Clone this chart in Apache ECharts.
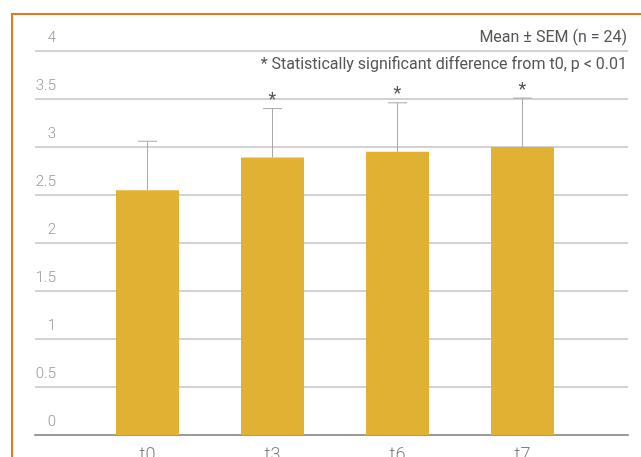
<!DOCTYPE html>
<html>
<head>
<meta charset="utf-8">
<script src="https://cdn.jsdelivr.net/npm/echarts@6/dist/echarts.min.js"></script>
<style>
  html, body { margin: 0; padding: 0; background: #fff; }
  #chart { width: 641px; height: 457px; }
</style>
</head>
<body>
<div id="chart"></div>
<script>
// Time points and their mean scores with standard errors
const categories = ['t0', 't3', 't6', 't7'];
const means = [2.55, 2.89, 2.95, 3.0];
const sem = [0.51, 0.51, 0.51, 0.51];
const significant = [false, true, true, true];
const yTicks = { min: 0, max: 4, interval: 0.5 };

const noteTop = 'Mean \u00b1 SEM (n = 24)';
const noteSig = '* Statistically significant difference from t0, p < 0.01';

const FONT = 'Roboto, "Noto Sans", sans-serif';
const BAR = '#E0B132';
const WHISKER = '#A9A9A9';

const errData = categories.map((c, i) => [i, means[i], means[i] + sem[i], significant[i] ? 1 : 0]);

const chart = echarts.init(document.getElementById('chart'), null, { renderer: 'canvas' });

chart.setOption({
  animation: false,
  backgroundColor: '#fff',
  grid: [
    { left: 35, right: 13, top: 51, bottom: 22, outerBoundsMode: 'none', containLabel: false },
    { left: 85, right: 56, top: 51, bottom: 22, outerBoundsMode: 'none', containLabel: false }
  ],
  xAxis: [
    {
      gridIndex: 0, type: 'value', min: 0, max: 1,
      axisLine: { show: true, lineStyle: { color: '#9a9a9a', width: 2 } },
      axisTick: { show: false }, axisLabel: { show: false }, splitLine: { show: false }
    },
    {
      gridIndex: 1, type: 'category', data: categories,
      axisLine: { show: false }, axisTick: { show: false },
      axisLabel: { color: '#808080', fontSize: 18, fontFamily: FONT, fontWeight: 300, margin: 11 }
    }
  ],
  yAxis: [
    {
      gridIndex: 0, type: 'value', min: yTicks.min, max: yTicks.max, interval: yTicks.interval,
      axisLine: { show: false }, axisTick: { show: false },
      splitLine: { show: true, lineStyle: { color: '#d2d2d2', width: 2 } },
      axisLabel: {
        inside: true, margin: 21, align: 'right', verticalAlign: 'bottom',
        padding: [0, 0, 5, 0],
        color: '#999', fontSize: 15, fontFamily: FONT, fontWeight: 300
      }
    },
    {
      gridIndex: 1, type: 'value', min: yTicks.min, max: yTicks.max, interval: yTicks.interval,
      show: false, splitLine: { show: false }
    }
  ],
  series: [
    {
      type: 'bar', xAxisIndex: 1, yAxisIndex: 1,
      data: means, barWidth: 63,
      itemStyle: { color: BAR }
    },
    {
      type: 'custom', xAxisIndex: 1, yAxisIndex: 1,
      data: errData, z: 5,
      renderItem: function (params, api) {
        const x = api.coord([api.value(0), api.value(1)])[0];
        const yLow = api.coord([api.value(0), api.value(1)])[1];
        const yHigh = api.coord([api.value(0), api.value(2)])[1];
        const half = 9.5;
        const children = [
          { type: 'line', shape: { x1: x, y1: yLow, x2: x, y2: yHigh }, style: { stroke: WHISKER, lineWidth: 1 } },
          { type: 'line', shape: { x1: x - half, y1: yHigh, x2: x + half, y2: yHigh }, style: { stroke: WHISKER, lineWidth: 1 } }
        ];
        if (api.value(3) === 1) {
          children.push({
            type: 'text',
            style: {
              text: '*', x: x, y: yHigh + 1, align: 'center', verticalAlign: 'bottom',
              font: '18px ' + FONT, fill: '#555'
            }
          });
        }
        return { type: 'group', children: children };
      }
    }
  ],
  graphic: [
    {
      type: 'rect', silent: true,
      shape: { x: 12, y: 14, width: 700, height: 500 },
      style: { fill: 'none', stroke: '#E8761C', lineWidth: 2 }
    },
    {
      type: 'text', right: 14, top: 30,
      style: { text: noteTop, font: '16px ' + FONT, fill: '#555' }
    },
    {
      type: 'text', right: 14, top: 57,
      style: { text: noteSig, font: '16px ' + FONT, fill: '#555' }
    }
  ]
});
</script>
</body>
</html>
